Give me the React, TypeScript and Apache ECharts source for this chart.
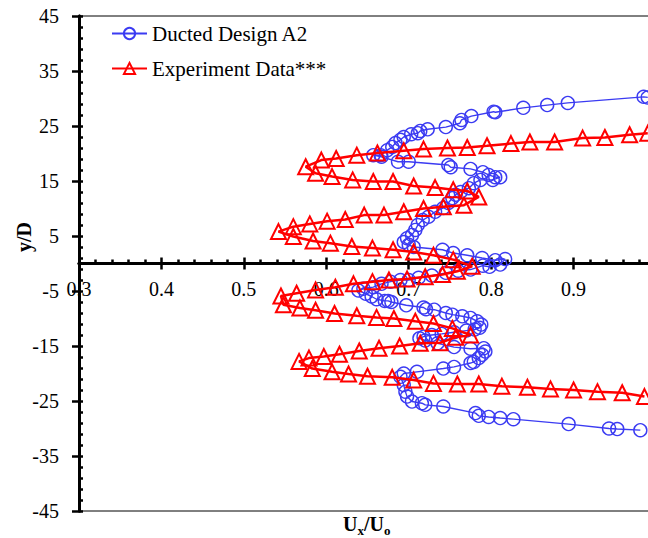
import React, { useEffect, useRef } from "react";
import * as echarts from "echarts";

const seriesNames = ["Ducted Design A2", "Experiment Data***"];

const ductedDesignA2: [number, number][] = [
  [0.990, 30.2], [0.985, 30.3], [0.893, 29.2], [0.868, 28.8], [0.839, 28.3], [0.805, 27.5], [0.803, 27.6],
  [0.776, 26.8], [0.764, 26.1], [0.762, 25.5], [0.745, 24.8], [0.723, 24.4], [0.714, 24.1], [0.711, 23.7],
  [0.703, 23.5], [0.694, 23.0], [0.690, 22.5], [0.684, 21.9], [0.680, 21.2], [0.674, 20.6], [0.666, 19.7],
  [0.657, 19.7], [0.667, 19.4], [0.687, 18.5], [0.700, 18.5], [0.748, 17.9], [0.751, 17.5], [0.775, 17.2],
  [0.790, 16.6], [0.797, 16.1], [0.805, 15.7], [0.811, 15.7], [0.802, 15.2], [0.787, 15.2], [0.779, 14.6],
  [0.773, 13.7], [0.763, 13.0], [0.757, 12.5], [0.753, 11.9], [0.748, 11.0], [0.742, 10.1], [0.732, 9.4],
  [0.724, 8.5], [0.717, 7.9], [0.711, 7.0], [0.708, 6.1], [0.704, 5.2], [0.698, 4.6], [0.694, 3.9],
  [0.700, 3.4], [0.706, 3.0], [0.741, 2.5], [0.754, 1.9], [0.771, 1.5], [0.789, 1.0], [0.805, 0.6],
  [0.817, 0.8], [0.811, -0.2], [0.798, -0.6], [0.790, -0.4], [0.775, -1.1], [0.760, -1.3], [0.745, -1.7],
  [0.728, -2.2], [0.712, -2.6], [0.700, -3.0], [0.690, -3.0], [0.678, -3.3], [0.667, -3.7], [0.657, -4.3],
  [0.645, -4.6], [0.639, -4.9], [0.648, -5.5], [0.655, -6.0], [0.661, -6.5], [0.671, -6.8], [0.675, -6.8],
  [0.679, -7.0], [0.697, -7.6], [0.718, -8.0], [0.721, -8.3], [0.731, -8.4], [0.745, -9.0], [0.753, -9.3],
  [0.765, -9.6], [0.775, -9.9], [0.783, -10.5], [0.788, -11.1], [0.786, -11.7], [0.780, -12.0], [0.770, -12.2],
  [0.755, -12.5], [0.740, -12.8], [0.728, -13.0], [0.718, -13.3], [0.713, -13.6], [0.720, -14.0], [0.735, -14.5],
  [0.755, -15.2], [0.775, -15.5], [0.791, -15.4], [0.793, -16.0], [0.789, -16.6], [0.785, -17.2], [0.779, -17.9],
  [0.775, -18.1], [0.755, -18.8], [0.742, -19.1], [0.710, -19.7], [0.694, -20.0], [0.690, -20.6], [0.694, -22.1],
  [0.696, -23.3], [0.698, -24.2], [0.704, -25.1], [0.716, -25.4], [0.720, -25.7], [0.742, -26.0], [0.781, -27.2],
  [0.785, -27.7], [0.797, -27.9], [0.811, -28.1], [0.827, -28.3], [0.894, -29.2], [0.943, -30.0], [0.953, -30.1],
  [0.981, -30.3],
];

const experimentData: [number, number][] = [
  [0.990, 23.7], [0.968, 23.4], [0.938, 22.9], [0.911, 22.8], [0.877, 22.1], [0.847, 22.1], [0.824, 21.8],
  [0.795, 21.4], [0.771, 21.1], [0.747, 21.0], [0.718, 20.8], [0.694, 20.5], [0.662, 20.1], [0.637, 19.7],
  [0.612, 19.1], [0.594, 18.8], [0.575, 17.6],
  [0.587, 16.4], [0.607, 15.8], [0.632, 15.2], [0.657, 14.9], [0.681, 14.9], [0.706, 14.1], [0.732, 13.8],
  [0.754, 13.4], [0.771, 13.2], [0.785, 12.1],
  [0.767, 10.6], [0.742, 10.3], [0.718, 10.0], [0.694, 9.4], [0.670, 8.8], [0.646, 8.8], [0.623, 8.0],
  [0.601, 7.7], [0.580, 7.2], [0.560, 6.7], [0.542, 5.8],
  [0.560, 4.9], [0.584, 4.1], [0.605, 3.7], [0.631, 3.1], [0.656, 2.8], [0.681, 2.5], [0.706, 2.1],
  [0.730, 1.5], [0.754, 0.7], [0.777, -0.5],
  [0.759, -1.4], [0.741, -2.0], [0.720, -2.4], [0.698, -2.8], [0.676, -3.0], [0.656, -3.3], [0.633, -3.7],
  [0.611, -4.3], [0.587, -4.8], [0.564, -5.4], [0.545, -5.9],
  [0.548, -7.5], [0.568, -8.1], [0.587, -8.5], [0.610, -9.1], [0.637, -9.5], [0.661, -9.8], [0.682, -10.0],
  [0.708, -10.5], [0.730, -10.9], [0.753, -11.8], [0.775, -13.0],
  [0.757, -13.4], [0.738, -14.4], [0.714, -14.5], [0.689, -15.0], [0.664, -15.4], [0.640, -15.9], [0.616, -16.5],
  [0.597, -16.9], [0.579, -17.2], [0.567, -17.8],
  [0.583, -19.1], [0.607, -19.7], [0.627, -20.1], [0.650, -20.5], [0.680, -20.7], [0.706, -21.2], [0.730, -21.8],
  [0.759, -21.9], [0.785, -21.9], [0.813, -22.3], [0.844, -22.5], [0.872, -22.8], [0.900, -23.0], [0.929, -23.3],
  [0.959, -23.5], [0.986, -24.2],
];

const xMin = 0.3;
const xMax = 1.0;
const xStep = 0.1;
const yMin = -45;
const yMax = 45;
const yStep = 10;

const FONT = "Liberation Serif";

const GRID_TOP = 16;
const GRID_BOTTOM = 27;
const PLOT_H = 538 - GRID_TOP - GRID_BOTTOM;
// the x axis sits where y = 0 on the y scale
const X_AXIS_OFFSET = -PLOT_H * (0 - yMin) / (yMax - yMin);

export default function App() {
  const ref = useRef<HTMLDivElement>(null);
  useEffect(() => {
    if (!ref.current) return;
    const chart = echarts.init(ref.current, undefined, { renderer: "svg" });
    const labelStyle = { fontFamily: FONT, fontSize: 20, color: "#000" };
    const xBase = {
      type: "value" as const,
      min: xMin,
      max: xMax,
      interval: xStep,
      position: "bottom" as const,
      offset: X_AXIS_OFFSET,
      splitLine: { show: false },
    };
    const yBase = {
      type: "value" as const,
      min: yMin,
      max: yMax,
      interval: yStep,
      splitLine: { show: false },
    };
    chart.setOption({
      animation: false,
      backgroundColor: "#fff",
      textStyle: { fontFamily: FONT },
      grid: {
        left: 79,
        top: GRID_TOP,
        bottom: GRID_BOTTOM,
        right: -8,
        outerBoundsMode: "none",
        containLabel: false,
        show: true,
        borderColor: "#000",
        borderWidth: 1,
        backgroundColor: "transparent",
      },
      legend: {
        left: 106,
        top: 18,
        orient: "vertical",
        itemWidth: 35,
        itemHeight: 14,
        itemGap: 14,
        textStyle: { fontFamily: FONT, fontSize: 21, color: "#000" },
        data: seriesNames,
      },
      xAxis: [
        {
          ...xBase,
          axisLine: { show: true, onZero: false, lineStyle: { color: "#000", width: 3 } },
          axisTick: { show: true, inside: true, length: 6, lineStyle: { color: "#000", width: 2.5 } },
          minorTick: { show: true, splitNumber: 5, length: 4, lineStyle: { color: "#000", width: 2.5 } },
          axisLabel: { ...labelStyle, margin: 15, showMaxLabel: false },
        },
        {
          ...xBase,
          axisLine: { show: true, onZero: false, lineStyle: { color: "#000", width: 3 } },
          axisTick: { show: true, inside: false, length: 6, lineStyle: { color: "#000", width: 2.5 } },
          axisLabel: { show: false },
        },
      ],
      yAxis: [
        {
          ...yBase,
          position: "left",
          axisLine: { show: true, onZero: false, lineStyle: { color: "#000", width: 3 } },
          axisTick: { show: true, inside: true, length: 4, lineStyle: { color: "#000", width: 2.5 } },
          minorTick: { show: true, splitNumber: 5, length: 4, lineStyle: { color: "#000", width: 2.5 } },
          axisLabel: { ...labelStyle, margin: 20 },
        },
        {
          ...yBase,
          position: "left",
          axisLine: { show: true, onZero: false, lineStyle: { color: "#000", width: 3 } },
          axisTick: { show: true, inside: false, length: 7, lineStyle: { color: "#000", width: 2.5 } },
          axisLabel: { show: false },
        },
      ],
      series: [
        {
          name: seriesNames[0],
          type: "line",
          data: ductedDesignA2,
          symbol: "circle",
          symbolSize: 13,
          lineStyle: { color: "#3b3bf2", width: 1.4 },
          itemStyle: { color: "rgba(0,0,0,0)", borderColor: "#3b3bf2", borderWidth: 1.4 },
          emphasis: { disabled: true },
          z: 2,
        },
        {
          name: seriesNames[1],
          type: "line",
          data: experimentData,
          symbol: "triangle",
          symbolSize: 15,
          lineStyle: { color: "#ff0000", width: 2.5 },
          itemStyle: { color: "rgba(0,0,0,0)", borderColor: "#ff0000", borderWidth: 2 },
          emphasis: { disabled: true },
          z: 3,
        },
      ],
      graphic: [
        {
          type: "text",
          x: 24,
          y: 237,
          rotation: Math.PI / 2,
          style: {
            text: "y/D",
            font: `bold 20px ${FONT}`,
            fill: "#000",
            textAlign: "center",
            textVerticalAlign: "middle",
          },
        },
        {
          type: "group",
          x: 343,
          y: 524,
          children: [
            { type: "text", x: 0, y: 0, style: { text: "U", font: `bold 20px ${FONT}`, fill: "#000", textVerticalAlign: "middle" } },
            { type: "text", x: 14.4, y: 6, style: { text: "x", font: `bold 13px ${FONT}`, fill: "#000", textVerticalAlign: "middle" } },
            { type: "text", x: 21, y: 0, style: { text: "/", font: `bold 20px ${FONT}`, fill: "#000", textVerticalAlign: "middle" } },
            { type: "text", x: 26.6, y: 0, style: { text: "U", font: `bold 20px ${FONT}`, fill: "#000", textVerticalAlign: "middle" } },
            { type: "text", x: 41, y: 6, style: { text: "o", font: `bold 13px ${FONT}`, fill: "#000", textVerticalAlign: "middle" } },
          ],
        },
      ],
    });
    return () => chart.dispose();
  }, []);
  return (
    <div
      ref={ref}
      style={{ position: "absolute", left: 0, top: 0, width: 648, height: 538 }}
    />
  );
}
